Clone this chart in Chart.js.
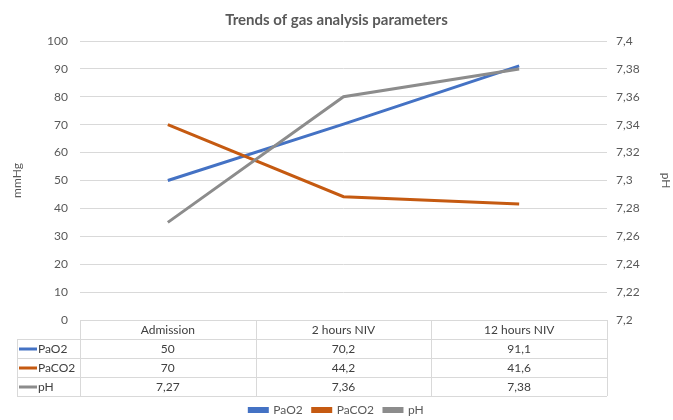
<!DOCTYPE html>
<html>
<head>
<meta charset="utf-8">
<script src="https://cdn.jsdelivr.net/npm/chart.js@4.4.0/dist/chart.umd.min.js"></script>
<style>
  html, body { margin: 0; padding: 0; background: #fff; }
  #wrap { width: 673px; height: 420px; }
</style>
</head>
<body>
<div id="wrap"><canvas id="gasChart" width="673" height="420"></canvas></div>
<script>
const categories = ['Admission', '2 hours NIV', '12 hours NIV'];
const pao2 = [50, 70.2, 91.1];
const paco2 = [70, 44.2, 41.6];
const ph = [7.27, 7.36, 7.38];
const seriesNames = ['PaO2', 'PaCO2', 'pH'];
const seriesColors = ['#4472C4', '#C55A11', '#8C8C8C'];

const FONT = 'Lato, "Open Sans", sans-serif';
const comma = v => String(v).replace('.', ',');

// draws the excel-like data table under the plot
const dataTable = {
  id: 'dataTable',
  afterDraw(chart) {
    const ctx = chart.ctx;
    const area = chart.chartArea;
    const w = (area.right - area.left) / categories.length;
    const rowH = 19;
    const top = area.bottom;
    const tableLeft = 17;
    const rows = [pao2, paco2, ph];

    ctx.save();
    ctx.strokeStyle = '#d9d9d9';
    ctx.lineWidth = 1;
    ctx.beginPath();
    ctx.moveTo(area.left, top + 0.5);
    ctx.lineTo(area.right, top + 0.5);
    for (let r = 1; r <= rows.length + 1; r++) {
      const y = Math.round(top + r * rowH) + 0.5;
      ctx.moveTo(tableLeft, y);
      ctx.lineTo(area.right, y);
    }
    ctx.moveTo(tableLeft + 0.5, top + rowH);
    ctx.lineTo(tableLeft + 0.5, top + rowH * 4);
    for (let i = 0; i <= categories.length; i++) {
      const x = Math.round(area.left + i * w) + 0.5;
      ctx.moveTo(x, top);
      ctx.lineTo(x, top + rowH * 4);
    }
    ctx.stroke();

    ctx.font = '12px ' + FONT;
    ctx.fillStyle = '#404040';
    ctx.textAlign = 'center';
    ctx.textBaseline = 'middle';
    categories.forEach((c, i) => {
      ctx.fillText(c, chart.scales.x.getPixelForValue(i), top + rowH / 2 + 1);
    });
    rows.forEach((vals, r) => {
      const cy = top + rowH * (r + 1.5) + 1;
      vals.forEach((v, i) => {
        ctx.fillText(comma(v), chart.scales.x.getPixelForValue(i), cy);
      });
      ctx.fillStyle = seriesColors[r];
      ctx.fillRect(tableLeft + 2, cy - 2, 18, 3);
      ctx.fillStyle = '#404040';
      ctx.textAlign = 'left';
      ctx.fillText(seriesNames[r], tableLeft + 21, cy);
      ctx.textAlign = 'center';
    });
    ctx.restore();
  }
};

const ctx = document.getElementById('gasChart').getContext('2d');
new Chart(ctx, {
  type: 'line',
  data: {
    labels: categories,
    datasets: [
      { label: 'PaO2', data: pao2, yAxisID: 'y', borderColor: seriesColors[0], backgroundColor: seriesColors[0], order: 2 },
      { label: 'PaCO2', data: paco2, yAxisID: 'y', borderColor: seriesColors[1], backgroundColor: seriesColors[1], order: 1 },
      { label: 'pH', data: ph, yAxisID: 'y1', borderColor: seriesColors[2], backgroundColor: seriesColors[2], order: 0 }
    ]
  },
  options: {
    responsive: false,
    animation: false,
    devicePixelRatio: 1,
    elements: {
      line: { borderWidth: 3, tension: 0 },
      point: { radius: 0 }
    },
    layout: { padding: { left: 0, right: 0, top: 0, bottom: -6 } },
    plugins: {
      title: {
        display: true,
        text: 'Trends of gas analysis parameters',
        color: '#595959',
        font: { family: FONT, size: 15, weight: 'bold' },
        padding: { top: 11, bottom: 12 }
      },
      legend: {
        position: 'bottom',
        labels: {
          sort: (a, b) => a.datasetIndex - b.datasetIndex,
          boxWidth: 18,
          boxHeight: 3,
          padding: 10,
          color: '#595959',
          font: { family: FONT, size: 12 }
        }
      },
      tooltip: { enabled: false }
    },
    scales: {
      x: {
        offset: true,
        grid: { display: false },
        border: { display: false },
        ticks: { display: false },
        afterFit: s => { s.height = 74; }
      },
      y: {
        position: 'left',
        min: 0,
        max: 100,
        afterFit: s => { s.width = 80; },
        ticks: { stepSize: 10, padding: 12, color: '#595959', font: { family: FONT, size: 12 } },
        grid: { color: '#d9d9d9', drawTicks: false },
        border: { display: false },
        title: { display: true, text: 'mmHg', color: '#595959', font: { family: FONT, size: 12 }, padding: { top: 10, bottom: 0 } }
      },
      y1: {
        position: 'right',
        min: 7.2,
        max: 7.4,
        afterFit: s => { s.width = 66; },
        ticks: {
          stepSize: 0.02,
          padding: 9,
          color: '#595959',
          font: { family: FONT, size: 12 },
          callback: v => comma(Number(v.toFixed(2)))
        },
        grid: { display: false, drawTicks: false },
        border: { display: false },
        title: { display: true, text: 'pH', color: '#595959', font: { family: FONT, size: 12 }, padding: { top: 0, bottom: 12 } }
      }
    }
  },
  plugins: [dataTable]
});
</script>
</body>
</html>
